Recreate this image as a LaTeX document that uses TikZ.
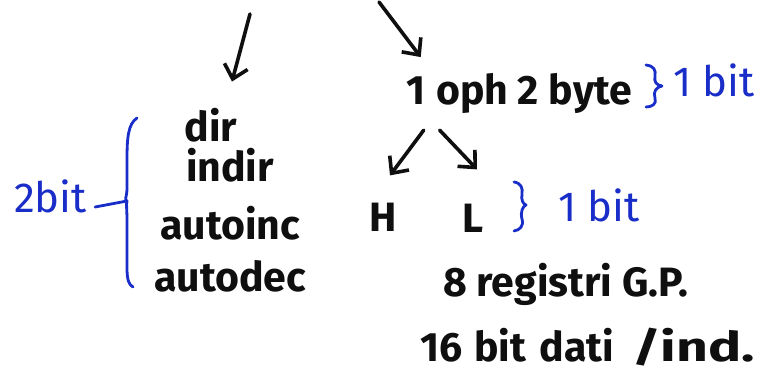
\documentclass[tikz,border=0pt]{standalone}
\usepackage{fontspec}
\setmainfont{Fira Sans}
\usetikzlibrary{arrows.meta,calc}
\definecolor{ink}{RGB}{15,15,15}
\definecolor{pen}{RGB}{25,45,200}
\tikzset{
  hw/.style={inner sep=0pt, text=ink, font=\fontsize{41}{43}\selectfont\bfseries},
  bl/.style={inner sep=0pt, text=pen, font=\fontsize{42}{44}\selectfont},
  arr/.style={draw=ink, line width=3.6pt, line cap=round, -{Straight Barb[length=13pt,width=24pt,line width=3.6pt]}},
  brc/.style={draw=pen, line width=2.8pt, line cap=round, line join=round}
}
\begin{document}
\begin{tikzpicture}[x=1pt,y=-1pt]
\useasboundingbox[fill=white] (0,0) rectangle (772,374);
% left column
\node[hw, anchor=base] (dir) at (211,142) {dir};
\node[hw, anchor=base] (indir) at (230,182) {indir};
\node[hw, anchor=base] (autoinc) at (230,240) {autoinc};
\node[hw, anchor=base] (autodec) at (230,292) {autodec};
\node[bl, anchor=base west] (twobit) at (14,213) {2bit};
% right part
\node[hw, anchor=base west] (one) at (406,105) {1};
\node[hw, anchor=base west] (op) at (436,105) {oph 2 byte};
\node[bl, anchor=base west] (bit1) at (673,97) {1 bit};
\node[hw, anchor=base] (H) at (383,232) {H};
\node[hw, anchor=base] (L) at (473,233) {L};
\node[bl, anchor=base west] (bit2) at (558,222) {1 bit};
\node[hw, anchor=base west] (reg) at (443,297) {8 registri G.P.};
\node[hw, anchor=base west] (dati) at (420,362) {16\hspace{12pt}bit\hspace{4pt} dati\hspace{8pt} \scalebox{1.35}[1]{/ind.}};
% arrows
\coordinate (s1) at (250,14);
\coordinate (s2) at (379,2);
\draw[arr] (s1) -- ($(dir.north)+(21,-27)$);
\draw[arr] (s2) -- ($(one.north)+(5,-20)$);
\draw[arr] ($(one.south)+(8,25)$) -- ($(H.north)+(7,-28)$);
\draw[arr] ($(one.south)+(24,25)$) -- ($(L.north)+(4,-35)$);
% big brace
\coordinate (tip) at (127,201);
\draw[brc] (137,118) .. controls (128,124) and (127,138) .. (127,160) -- (127,188) .. controls (127,197) and (124,200) .. (tip);
\draw[brc] (tip) .. controls (126,204) and (127,210) .. (127,220) -- (127,268) .. controls (127,280) and (129,285) .. (133,287);
\draw[brc] ($(twobit.east |- tip)+(8,6)$) -- (tip);
% small braces
\coordinate (t1) at (662,86);
\draw[brc] (646,65) .. controls (654,66) and (656,70) .. (655,76) .. controls (654,82) and (656,85) .. (t1)
           .. controls (656,87) and (653,92) .. (655,98) .. controls (657,104) and (652,107) .. (646,107);
\coordinate (t2) at (526,205);
\draw[brc] (514,182) .. controls (521,183) and (523,188) .. (522,194) .. controls (521,200) and (523,204) .. (t2)
           .. controls (523,206) and (520,212) .. (522,219) .. controls (524,226) and (520,230) .. (514,231);
\end{tikzpicture}
\end{document}
